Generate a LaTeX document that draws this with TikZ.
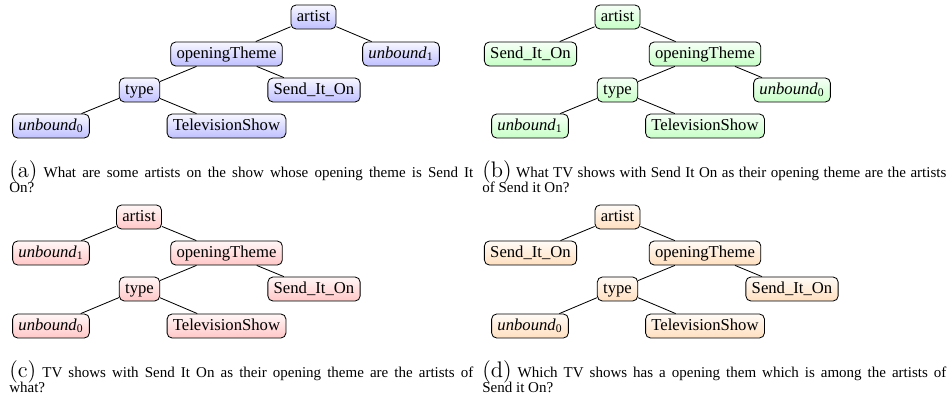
\documentclass[tikz,border=0pt]{standalone}
\usepackage{fontspec}
\setmainfont{Liberation Serif}
\usepackage{xcolor}
\usepackage{tikz}
\usetikzlibrary{arrows,calc,positioning,shapes}

\newcommand{\ub}[1]{\textit{unbound}\textsubscript{#1}}
\newcommand{\sublabel}[1]{{\fontfamily{lmr}\fontsize{13.5}{12}\selectfont(#1)}}
\newcommand{\captfont}{\fontsize{9}{9.4}\selectfont\lineskiplimit=-10pt\relax}

\begin{document}
\begin{tikzpicture}[x=0.6pt,y=-0.6pt]
\tikzset{term/.style = {shape=rectangle,rounded corners=3pt,draw,line width=0.5pt,font=\fontsize{10}{12}\selectfont,text height=7pt,text depth=2pt,inner xsep=3.5pt,inner ysep=2.7pt}}
\tikzset{tblue/.style = {term,top color=blue!3,bottom color=blue!25}}
\tikzset{tgreen/.style = {term,top color=green!3,bottom color=green!22}}
\tikzset{tred/.style = {term,top color=red!3,bottom color=red!22}}
\tikzset{torange/.style = {term,top color=orange!3,bottom color=orange!25}}
\tikzset{edge/.style = {line width=0.5pt}}
\tikzset{capt/.style = {anchor=north west,inner sep=0pt,text width=278.4pt,align=justify,font=\captfont}}
\useasboundingbox (0,0) rectangle (951,403);
% (a)
\node[tblue] (art1) at (313.5,17) {artist};
\node[tblue] (ot1) at (226.5,54) {openingTheme};
\node[tblue] (ubb1) at (401,54) {\ub{1}};
\node[tblue] (ty1) at (139.5,90) {type};
\node[tblue] (snd1) at (314,90) {Send\_It\_On};
\node[tblue] (uba1) at (51,126) {\ub{0}};
\node[tblue] (tv1) at (226.5,126) {TelevisionShow};
\draw[edge] (art1) to (ot1);
\draw[edge] (art1) to (ubb1);
\draw[edge] (ot1) to (ty1);
\draw[edge] (ot1) to (snd1);
\draw[edge] (ty1) to (uba1);
\draw[edge] (ty1) to (tv1);
\node[capt] (cap1) at (9,160) {\sublabel{a} What are some artists on the show whose opening theme is Send It\linebreak On?};
% (b)
\node[tgreen] (art2) at (617.5,17) {artist};
\node[tgreen] (snd2) at (530.5,54) {Send\_It\_On};
\node[tgreen] (ot2) at (705,54) {openingTheme};
\node[tgreen] (ty2) at (617.5,90) {type};
\node[tgreen] (uba2) at (792,90) {\ub{0}};
\node[tgreen] (ubb2) at (530,126) {\ub{1}};
\node[tgreen] (tv2) at (705,126) {TelevisionShow};
\draw[edge] (art2) to (snd2);
\draw[edge] (art2) to (ot2);
\draw[edge] (ot2) to (ty2);
\draw[edge] (ot2) to (uba2);
\draw[edge] (ty2) to (ubb2);
\draw[edge] (ty2) to (tv2);
\node[capt] (cap2) at (482,160) {\sublabel{b} What TV shows with Send It On as their opening theme are the artists\linebreak of Send it On?};
% (c)
\node[tred] (art3) at (139,217) {artist};
\node[tred] (ubb3) at (51,253) {\ub{1}};
\node[tred] (ot3) at (226.5,253) {openingTheme};
\node[tred] (ty3) at (139.5,289) {type};
\node[tred] (snd3) at (314,289) {Send\_It\_On};
\node[tred] (uba3) at (51,326) {\ub{0}};
\node[tred] (tv3) at (226.5,326) {TelevisionShow};
\draw[edge] (art3) to (ubb3);
\draw[edge] (art3) to (ot3);
\draw[edge] (ot3) to (ty3);
\draw[edge] (ot3) to (snd3);
\draw[edge] (ty3) to (uba3);
\draw[edge] (ty3) to (tv3);
\node[capt] (cap3) at (9,360) {\sublabel{c} TV shows with Send It On as their opening theme are the artists of\linebreak what?};
% (d)
\node[torange] (art4) at (617.5,217) {artist};
\node[torange] (snd4) at (530.5,253) {Send\_It\_On};
\node[torange] (ot4) at (705,253) {openingTheme};
\node[torange] (ty4) at (617.5,289) {type};
\node[torange] (snde4) at (792,289) {Send\_It\_On};
\node[torange] (uba4) at (530,326) {\ub{0}};
\node[torange] (tv4) at (705,326) {TelevisionShow};
\draw[edge] (art4) to (snd4);
\draw[edge] (art4) to (ot4);
\draw[edge] (ot4) to (ty4);
\draw[edge] (ot4) to (snde4);
\draw[edge] (ty4) to (uba4);
\draw[edge] (ty4) to (tv4);
\node[capt] (cap4) at (482,360) {\sublabel{d} Which TV shows has a opening them which is among the artists of\linebreak Send it On?};
\end{tikzpicture}
\end{document}
